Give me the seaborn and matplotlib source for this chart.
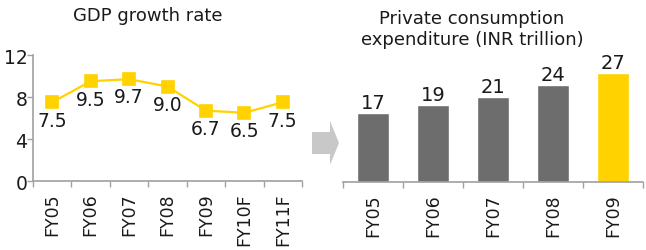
import numpy as np
import pandas as pd
import matplotlib
matplotlib.use("Agg")
import matplotlib.pyplot as plt
from matplotlib.patches import Polygon
import seaborn as sns

# ---- data ----
gdp_years = ["FY05", "FY06", "FY07", "FY08", "FY09", "FY10F", "FY11F"]
gdp_growth = [7.5, 9.5, 9.7, 9.0, 6.7, 6.5, 7.5]

pce_years = ["FY05", "FY06", "FY07", "FY08", "FY09"]
pce_values = [17, 19, 21, 24, 27]

gdp_title = "GDP growth rate"
pce_title = "Private consumption\nexpenditure (INR trillion)"

YELLOW = "#FFD200"
GREY = "#6D6D6D"
AXIS = "#A0A0A0"
TEXT = "#1A1A1A"

sns.set_theme(style="white")
plt.rcParams["font.family"] = ["DejaVu Sans"]

W, H = 646, 251
fig = plt.figure(figsize=(W / 100, H / 100), dpi=100)

def frac(x0, y_top, x1, y_bot):
    return [x0 / W, 1 - y_bot / H, (x1 - x0) / W, (y_bot - y_top) / H]

# ---- left: GDP growth line ----
ax1 = fig.add_axes(frac(33, 56, 302, 182))
df1 = pd.DataFrame({"year": gdp_years, "growth": gdp_growth})
sns.pointplot(data=df1, x="year", y="growth", color=YELLOW, markers="s",
              markersize=8.5, linewidth=1.6, ax=ax1)
ax1.set_xlim(-0.5, len(gdp_years) - 0.5)
ax1.set_ylim(0, 12)
ax1.set_yticks([0, 4, 8, 12])
ax1.set_xticks(np.arange(-0.5, len(gdp_years), 1), minor=True)
ax1.set_xlabel("")
ax1.set_ylabel("")
ax1.tick_params(axis="x", which="major", bottom=True, length=0, pad=8, labelsize=12.5,
                labelrotation=90, colors=TEXT)
ax1.tick_params(axis="x", which="minor", bottom=True, length=4, width=1, color=AXIS,
                direction="out")
ax1.tick_params(axis="y", left=True, length=4, width=1, color=AXIS, direction="out",
                labelsize=13.5, labelcolor=TEXT, pad=0)
for lab in ax1.get_xticklabels():
    lab.set_va("top")
for s in ["top", "right"]:
    ax1.spines[s].set_visible(False)
for s in ["left", "bottom"]:
    ax1.spines[s].set_color(AXIS)
    ax1.spines[s].set_linewidth(1.2)
for i, v in enumerate(gdp_growth):
    ax1.annotate(f"{v:.1f}", (i, v), xytext=(0, -6), textcoords="offset points",
                 ha="center", va="top", fontsize=13.5, color=TEXT)

# ---- right: private consumption bars ----
ax2 = fig.add_axes(frac(343, 62, 643, 183))
df2 = pd.DataFrame({"year": pce_years, "value": pce_values})
colors = [GREY] * (len(pce_years) - 1) + [YELLOW]
sns.barplot(data=df2, x="year", y="value", hue="year", palette=colors,
            width=0.52, legend=False, ax=ax2, saturation=1)
ax2.set_xlim(-0.5, len(pce_years) - 0.5)
ax2.set_ylim(0, 30)
ax2.set_yticks([])
ax2.set_xlabel("")
ax2.set_ylabel("")
ax2.set_xticks(np.arange(-0.5, len(pce_years), 1), minor=True)
ax2.tick_params(axis="x", which="major", bottom=True, length=0, pad=8, labelsize=12.5,
                labelrotation=90, colors=TEXT)
ax2.tick_params(axis="x", which="minor", bottom=True, length=4, width=1, color=AXIS,
                direction="out")
for lab in ax2.get_xticklabels():
    lab.set_va("top")
for s in ["top", "right", "left"]:
    ax2.spines[s].set_visible(False)
ax2.spines["bottom"].set_color(AXIS)
ax2.spines["bottom"].set_linewidth(1.2)
for cont in ax2.containers:
    ax2.bar_label(cont, fmt="%d", padding=1, fontsize=14, color=TEXT)

# ---- titles ----
fig.text(148 / W, 1 - 21 / H, gdp_title, ha="center", va="baseline",
         fontsize=13, color=TEXT)
fig.text(472 / W, 1 - 45 / H, pce_title, ha="center", va="baseline",
         fontsize=13, color=TEXT, linespacing=1.2)

# ---- arrow decoration ----
pts = [(312, 133), (330, 133), (330, 122), (339, 144), (330, 166), (330, 155), (312, 155)]
arrow = Polygon([(x / W, 1 - y / H) for x, y in pts], closed=True,
                transform=fig.transFigure, facecolor="#C8C8C8", edgecolor="none")
fig.patches.append(arrow)

fig.savefig("out.png", dpi=100)
